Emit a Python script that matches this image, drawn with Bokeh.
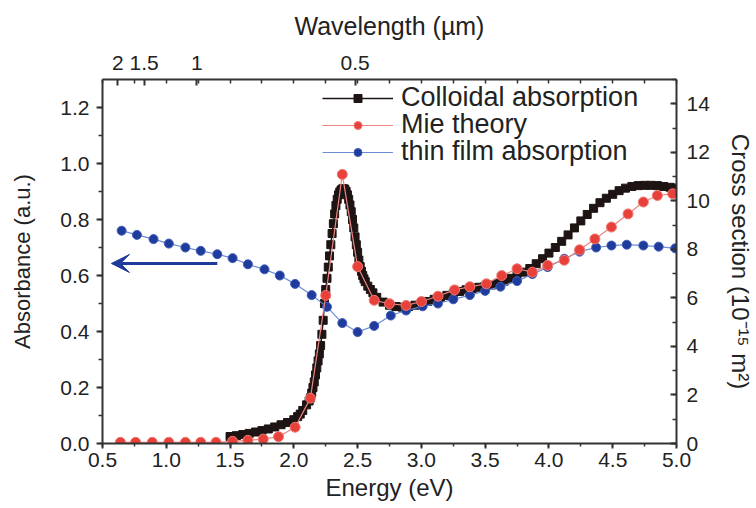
import numpy as np
from bokeh.plotting import figure
from bokeh.models import (Range1d, LinearAxis, SingleIntervalTicker, FixedTicker,
                          PrintfTickFormatter, CustomJSTickFormatter, Legend, LegendItem,
                          Arrow, VeeHead)
from bokeh.embed import file_html
from bokeh.resources import INLINE

# ---------------- data ----------------
# Colloidal absorption (absorbance, left axis)
energy_colloid = [1.50, 1.55, 1.60, 1.65, 1.70, 1.75, 1.80, 1.85, 1.90, 1.95,
                  2.00, 2.03, 2.05, 2.07, 2.10, 2.12, 2.13, 2.14, 2.15, 2.16,
                  2.17, 2.18, 2.19, 2.20, 2.21, 2.22, 2.23, 2.24, 2.25, 2.26,
                  2.27, 2.28, 2.29, 2.30, 2.31, 2.32, 2.33, 2.34, 2.35, 2.36,
                  2.37, 2.38, 2.39, 2.40, 2.41, 2.42, 2.43, 2.44, 2.45, 2.46,
                  2.47, 2.48, 2.49, 2.50, 2.51, 2.52, 2.53, 2.54, 2.55, 2.56,
                  2.58, 2.60, 2.62, 2.65, 2.70, 2.75, 2.80, 2.85, 2.90, 2.95,
                  3.00, 3.05, 3.10, 3.15, 3.20, 3.25, 3.30, 3.35, 3.40, 3.45,
                  3.50, 3.55, 3.60, 3.65, 3.70, 3.75, 3.80, 3.85, 3.90, 3.95,
                  4.00, 4.05, 4.10, 4.15, 4.20, 4.25, 4.30, 4.35, 4.40, 4.45,
                  4.50, 4.55, 4.60, 4.65, 4.70, 4.75, 4.80, 4.85, 4.90, 4.95, 5.00]
abs_colloid = [0.025, 0.028, 0.032, 0.036, 0.041, 0.046, 0.052, 0.059, 0.067, 0.075,
               0.085, 0.096, 0.105, 0.118, 0.138, 0.152, 0.163, 0.18, 0.20, 0.22,
               0.245, 0.27, 0.295, 0.32, 0.35, 0.39, 0.44, 0.50, 0.55, 0.59,
               0.63, 0.67, 0.71, 0.75, 0.785, 0.82, 0.85, 0.872, 0.888, 0.898,
               0.905, 0.909, 0.91, 0.908, 0.90, 0.888, 0.872, 0.852, 0.828, 0.80,
               0.77, 0.738, 0.71, 0.683, 0.655, 0.632, 0.615, 0.60, 0.588, 0.578,
               0.562, 0.55, 0.538, 0.522, 0.505, 0.494, 0.489, 0.487, 0.489, 0.494,
               0.50, 0.507, 0.515, 0.522, 0.529, 0.536, 0.543, 0.549, 0.554, 0.558,
               0.562, 0.566, 0.572, 0.58, 0.59, 0.60, 0.612, 0.625, 0.642, 0.66,
               0.68, 0.70, 0.722, 0.745, 0.77, 0.795, 0.818, 0.84, 0.86, 0.876,
               0.89, 0.903, 0.912, 0.918, 0.921, 0.922, 0.922, 0.921, 0.918, 0.915, 0.912]

# Mie theory (cross section, 1e-15 m^2, right axis)
energy_mie = [0.64, 0.76, 0.89, 1.02, 1.15, 1.27, 1.39, 1.52, 1.64, 1.76,
              1.88, 2.01, 2.13, 2.25, 2.38, 2.50, 2.63, 2.75, 2.88, 3.00,
              3.13, 3.26, 3.38, 3.51, 3.63, 3.75, 3.87, 3.99, 4.12, 4.24,
              4.36, 4.49, 4.62, 4.74, 4.85, 4.97]
cross_mie = [0.05, 0.05, 0.05, 0.05, 0.05, 0.05, 0.05, 0.09, 0.13, 0.18,
             0.28, 0.67, 1.87, 6.10, 11.09, 7.29, 5.90, 5.76, 5.69, 5.85,
             6.07, 6.33, 6.46, 6.58, 6.92, 7.20, 7.06, 7.34, 7.55, 7.98,
             8.43, 8.92, 9.46, 9.95, 10.22, 10.29]

# thin film absorption (absorbance, left axis)
energy_film = [0.65, 0.77, 0.90, 1.02, 1.15, 1.27, 1.40, 1.52, 1.64, 1.77,
               1.89, 2.01, 2.14, 2.26, 2.38, 2.50, 2.63, 2.76, 2.88, 3.01,
               3.13, 3.25, 3.38, 3.50, 3.62, 3.75, 3.87, 3.99, 4.12, 4.24,
               4.37, 4.49, 4.61, 4.74, 4.86, 4.99]
abs_film = [0.76, 0.745, 0.73, 0.714, 0.70, 0.688, 0.676, 0.662, 0.64, 0.622,
            0.60, 0.57, 0.53, 0.488, 0.43, 0.398, 0.42, 0.457, 0.475, 0.49,
            0.50, 0.515, 0.53, 0.545, 0.56, 0.58, 0.605, 0.63, 0.66, 0.685,
            0.70, 0.707, 0.71, 0.707, 0.703, 0.697]

series_labels = ["Colloidal absorption", "Mie theory", "thin film absorption"]

# top axis: wavelength ticks (um), E[eV] = HC / lambda[um]
wavelength_ticks = [2, 1.5, 1, 0.5]
HC = 1.24

# arrow (points from the thin-film curve towards the left axis)
arrow_x_start, arrow_x_end, arrow_y = 1.40, 0.57, 0.643

# ---------------- style ----------------
FONT = "Liberation Sans"
AX = "#333333"
TXT = "#222222"
BLUE = "#1f3c9c"
RED = "#e8413c"
BLACK = "#1e1414"

p = figure(width=756, height=508, x_range=Range1d(0.5, 5.0), y_range=Range1d(0, 1.3),
           x_axis_type=None, y_axis_type=None, output_backend="svg", toolbar_location=None,
           min_border_left=102, min_border_right=79, min_border_top=79, min_border_bottom=65)
p.extra_y_ranges = {"cs": Range1d(0, 15)}
p.outline_line_color = None
p.background_fill_color = "white"
p.border_fill_color = "white"


def style(ax, tick_size="21px", label_size="24px"):
    ax.axis_line_width = 2
    ax.axis_line_color = AX
    ax.major_tick_line_width = 2
    ax.minor_tick_line_width = 1.5
    ax.major_tick_line_color = AX
    ax.minor_tick_line_color = AX
    ax.major_label_text_font = FONT
    ax.major_label_text_font_size = tick_size
    ax.major_label_text_color = TXT
    ax.axis_label_text_font = FONT
    ax.axis_label_text_font_size = label_size
    ax.axis_label_text_font_style = "normal"
    ax.axis_label_text_color = TXT


xb = LinearAxis(ticker=SingleIntervalTicker(interval=0.5, num_minor_ticks=2),
                formatter=PrintfTickFormatter(format="%.1f"), axis_label="Energy (eV)")
style(xb, label_size="24px")
xb.major_tick_out, xb.major_tick_in = 5, 0
xb.minor_tick_out, xb.minor_tick_in = 3, 0
xb.major_label_standoff = 4
xb.axis_label_standoff = 4
p.add_layout(xb, "below")

top_pos = [HC / w for w in wavelength_ticks]
xt = LinearAxis(ticker=FixedTicker(ticks=top_pos, minor_ticks=list(np.arange(0.5, 5.01, 0.25))),
                formatter=CustomJSTickFormatter(code="return String(Math.round(124 / tick) / 100);"),
                axis_label="Wavelength (µm)")
style(xt, label_size="25px")
xt.major_tick_out, xt.major_tick_in = 0, 6
xt.minor_tick_out, xt.minor_tick_in = 0, 4
xt.major_label_standoff = 10
xt.axis_label_standoff = 13
p.add_layout(xt, "above")

yl = LinearAxis(ticker=SingleIntervalTicker(interval=0.2, num_minor_ticks=2),
                formatter=PrintfTickFormatter(format="%.1f"), axis_label="Absorbance (a.u.)")
style(yl, label_size="22px")
yl.major_tick_out, yl.major_tick_in = 6, 0
yl.minor_tick_out, yl.minor_tick_in = 4, 0
yl.major_label_standoff = 7
yl.axis_label_standoff = 22
p.add_layout(yl, "left")

yr = LinearAxis(y_range_name="cs", ticker=SingleIntervalTicker(interval=2, num_minor_ticks=2),
                axis_label="Cross section (10⁻¹⁵ m²)")
style(yr, label_size="24px")
yr.major_tick_out, yr.major_tick_in = 0, 6
yr.minor_tick_out, yr.minor_tick_in = 0, 4
yr.major_label_standoff = 10
yr.axis_label_standoff = 14
p.add_layout(yr, "right")

# ---------------- data renderers ----------------
r_col_line = p.line(energy_colloid, abs_colloid, line_color=BLACK, line_width=1.5)
r_col_pts = p.scatter(energy_colloid, abs_colloid, marker="square", size=8,
                      fill_color=BLACK, line_color=BLACK)

r_film_line = p.line(energy_film, abs_film, line_color="#6d8bd6", line_width=1.2)
r_film_pts = p.scatter(energy_film, abs_film, marker="circle", size=9,
                       fill_color=BLUE, line_color="#3e5cb8")

r_mie_line = p.line(energy_mie, cross_mie, y_range_name="cs", line_color="#ee8580", line_width=1.2)
r_mie_pts = p.scatter(energy_mie, cross_mie, y_range_name="cs", marker="circle", size=10,
                      fill_color=RED, line_color="#f07a70")

# one single-row legend per series so that the rows can sit closely together
legend_renderers = [[r_col_line, r_col_pts], [r_mie_line, r_mie_pts], [r_film_line, r_film_pts]]
legend_bottoms = [330, 303, 276]   # screen px above the frame's bottom edge
for label, rends, vy in zip(series_labels, legend_renderers, legend_bottoms):
    p.add_layout(Legend(items=[LegendItem(label=label, renderers=rends)],
                        location=(220, vy), glyph_width=71, glyph_height=20, label_standoff=8,
                        label_text_font=FONT, label_text_font_size="27px",
                        label_text_color=TXT, padding=0, spacing=0, margin=0,
                        border_line_alpha=0, background_fill_alpha=0))

p.add_layout(Arrow(end=VeeHead(size=18, fill_color=BLUE, line_color=BLUE, line_width=1),
                   x_start=arrow_x_start, y_start=arrow_y, x_end=arrow_x_end, y_end=arrow_y,
                   line_color=BLUE, line_width=3))

open("out.html", "w").write(file_html(p, INLINE))
